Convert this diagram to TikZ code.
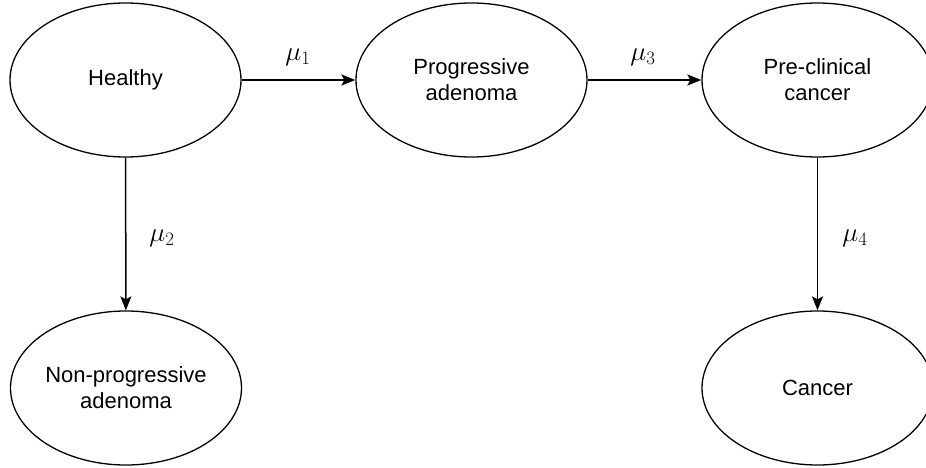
\documentclass[tikz,border=0pt]{standalone}
\usepackage{fix-cm}
\usepackage{fontspec}
\setmainfont{Liberation Sans}
\usetikzlibrary{arrows.meta, shapes.geometric}
\tikzstyle{state}=[ellipse, draw, line width=1.3pt, minimum width=231pt, minimum height=154pt, align=center, font=\fontsize{22}{26}\selectfont, inner sep=0pt]
\tikzstyle{trans}=[draw, line width=1.5pt, -{Stealth[length=14pt, width=11pt, inset=3pt]}]
\tikzstyle{rate}=[font=\fontsize{27}{30}\selectfont, inner sep=0pt]

\begin{document}
\begin{tikzpicture}[x = 1pt, y = -1pt]
    \useasboundingbox (0,0) rectangle (926,468);
% States
    \node[state] (healthy)  at (125.5,80) {Healthy};
    \node[state] (prog)     at (471.5,80) {Progressive\\adenoma};
    \node[state] (preclin)  at (817.5,80) {Pre-clinical\\cancer};
    \node[state] (nonprog)  at (126,388)  {Non-progressive\\adenoma};
    \node[state] (cancer)   at (817.5,388) {Cancer};
% Transitions
    \draw[trans] (healthy) -- (prog);
    \draw[trans] (prog) -- (preclin);
    \draw[trans] (healthy) -- (nonprog);
    \draw[trans] (preclin) -- (cancer);
% Rates
    \node[rate] (mu1) at (298,57)  {$\mu_1$};
    \node[rate] (mu3) at (643,57)  {$\mu_3$};
    \node[rate] (mu2) at (162,238) {$\mu_2$};
    \node[rate] (mu4) at (855,238) {$\mu_4$};
\end{tikzpicture}
\end{document}
